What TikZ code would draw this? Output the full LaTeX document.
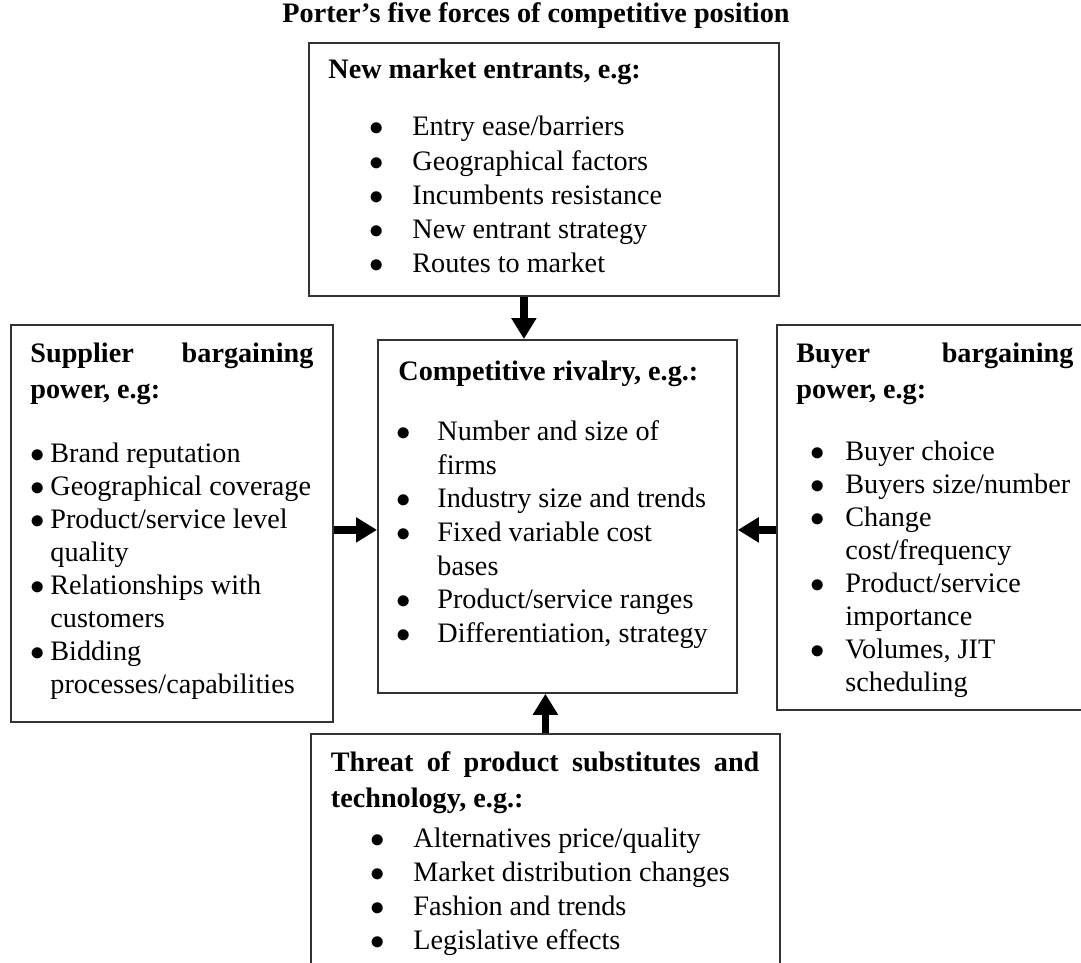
\documentclass[tikz,border=0pt]{standalone}
\usepackage{fontspec}
\setmainfont{Liberation Serif}
\usetikzlibrary{arrows.meta,positioning}

\newcommand{\fitem}[3]{\hspace*{#1}\makebox[#2][l]{$\bullet$}#3}
\newcommand{\fmore}[2]{\hspace*{#1}#2}

\begin{document}
\begin{tikzpicture}[
  x=0.5pt, y=-0.5pt,
  forcebox/.style={draw=black!80, line width=0.9pt, anchor=north west,
    inner sep=0pt},
  forcetext/.style={anchor=north west, inner sep=0pt, align=left,
    font=\fontsize{14.1pt}{#1}\selectfont},
  flow/.style={-{Triangle[length=10.5pt,width=12pt]}, line width=3.8pt}
]
\useasboundingbox (0,0) rectangle (1081,963);
\node[font=\fontsize{14.1pt}{17pt}\selectfont\bfseries, anchor=base] (title) at (536,23)
  {Porter’s five forces of competitive position};

% the five boxes
\node[forcebox, minimum width=235pt, minimum height=126.5pt] (entrants) at (308,42) {};
\node[forcebox, minimum width=179.5pt, minimum height=176.5pt] (rivalry) at (377,339) {};
\node[forcebox, minimum width=161pt, minimum height=198.5pt] (suppliers) at (10,324) {};
\node[forcebox, minimum width=157pt, minimum height=192.5pt] (buyers) at (776,324) {};
\node[forcebox, minimum width=234.5pt, minimum height=120pt] (substitutes) at (310,733) {};

% their texts
\node[forcetext=17.1pt, below right=8.5pt and 10pt of entrants.north west] (entrants list) {%
  \textbf{New market entrants, e.g:}\\[11.4pt]
  \fitem{20.5pt}{21.5pt}{Entry ease/barriers}\\
  \fitem{20.5pt}{21.5pt}{Geographical factors}\\
  \fitem{20.5pt}{21.5pt}{Incumbents resistance}\\
  \fitem{20.5pt}{21.5pt}{New entrant strategy}\\
  \fitem{20.5pt}{21.5pt}{Routes to market}};
\node[forcetext=16.85pt, below right=11pt and 10.5pt of rivalry.north west] (rivalry list) {%
  \textbf{Competitive rivalry, e.g.:}\\[12.9pt]
  \fitem{-1pt}{20.5pt}{Number and size of}\\
  \fmore{19.5pt}{firms}\\
  \fitem{-1pt}{20.5pt}{Industry size and trends}\\
  \fitem{-1pt}{20.5pt}{Fixed variable cost}\\
  \fmore{19.5pt}{bases}\\
  \fitem{-1pt}{20.5pt}{Product/service ranges}\\
  \fitem{-1pt}{20.5pt}{Differentiation, strategy}};
\node[forcetext=16.5pt, below right=9.5pt and 10pt of suppliers.north west] (suppliers list) {%
  \makebox[141.5pt][l]{\textbf{Supplier}\hfill\textbf{bargaining}}\\[1.5pt]
  \textbf{power, e.g:}\\[15.5pt]
  \fitem{0pt}{10pt}{Brand reputation}\\
  \fitem{0pt}{10pt}{Geographical coverage}\\
  \fitem{0pt}{10pt}{Product/service level}\\
  \fmore{10pt}{quality}\\
  \fitem{0pt}{10pt}{Relationships with}\\
  \fmore{10pt}{customers}\\
  \fitem{0pt}{10pt}{Bidding}\\
  \fmore{10pt}{processes/capabilities}};
\node[forcetext=16.5pt, below right=9.5pt and 10pt of buyers.north west] (buyers list) {%
  \makebox[138.5pt][l]{\textbf{Buyer}\hfill\textbf{bargaining}}\\[1.5pt]
  \textbf{power, e.g:}\\[14.5pt]
  \fitem{7.25pt}{17.25pt}{Buyer choice}\\
  \fitem{7.25pt}{17.25pt}{Buyers size/number}\\
  \fitem{7.25pt}{17.25pt}{Change}\\
  \fmore{24.5pt}{cost/frequency}\\
  \fitem{7.25pt}{17.25pt}{Product/service}\\
  \fmore{24.5pt}{importance}\\
  \fitem{7.25pt}{17.25pt}{Volumes, JIT}\\
  \fmore{24.5pt}{scheduling}};
\node[forcetext=17pt, below right=9pt and 10.25pt of substitutes.north west] (substitutes list) {%
  \makebox[214.25pt][s]{\textbf{Threat of product substitutes and}}\\[1pt]
  \textbf{technology, e.g.:}\\[3pt]
  \fitem{19.75pt}{21.5pt}{Alternatives price/quality}\\
  \fitem{19.75pt}{21.5pt}{Market distribution changes}\\
  \fitem{19.75pt}{21.5pt}{Fashion and trends}\\
  \fitem{19.75pt}{21.5pt}{Legislative effects}};

% forces acting on the rivalry
\draw[flow] ([xshift=-10pt]entrants.south) -- ([xshift=-10pt]entrants.south |- rivalry.north);
\draw[flow] ([yshift=-3.25pt]suppliers.east) -- ([yshift=-3.25pt]suppliers.east -| rivalry.west);
\draw[flow] ([yshift=-6.25pt]buyers.west) -- ([yshift=-6.25pt]buyers.west -| rivalry.east);
\draw[flow] (substitutes.north) -- (substitutes.north |- rivalry.south);
\end{tikzpicture}
\end{document}
